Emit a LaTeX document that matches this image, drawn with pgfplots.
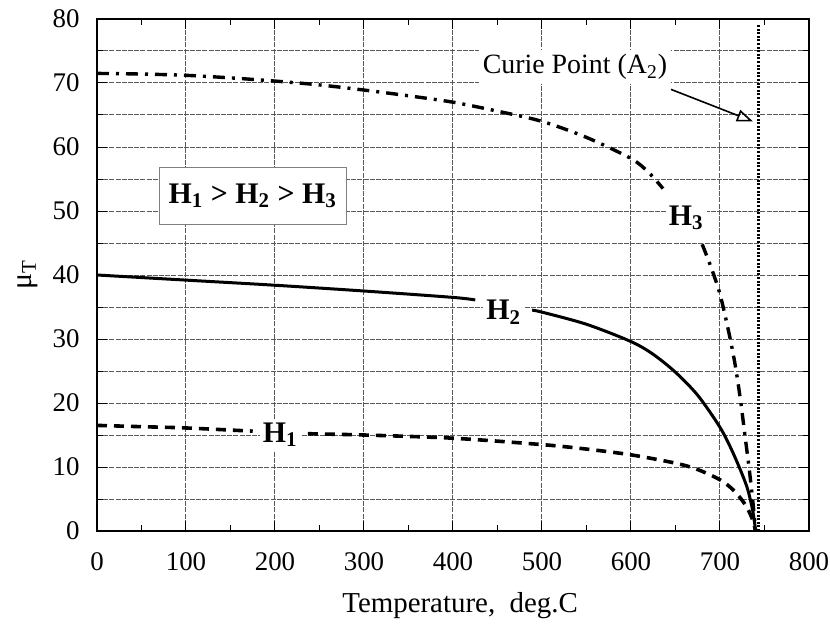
\documentclass[border=0pt]{standalone}
\usepackage{fontspec}
\setmainfont{Liberation Serif}
\usepackage{pgfplots}
\pgfplotsset{compat=1.18}
\usetikzlibrary{arrows.meta}

\begin{document}
\fontsize{13.5}{16}\selectfont
\begin{tikzpicture}
\useasboundingbox (-48.5bp,-47bp) rectangle (366.5bp,265.5bp);
\begin{axis}[
  at={(0,0)}, anchor=south west,
  scale only axis, width=356bp, height=256bp,
  xmin=0, xmax=800, ymin=0, ymax=80,
  xtick={0,100,...,800}, ytick={0,10,...,80},
  minor xtick={50,150,...,750}, minor ytick={5,15,...,75},
  xmajorgrids, ymajorgrids, yminorgrids,
  major grid style={black!65, line width=0.5bp, dash pattern=on 2.5bp off 0.6bp},
  minor grid style={black!65, line width=0.5bp, dash pattern=on 2.5bp off 0.6bp},
  tick style={black, line width=0.5bp},
  major tick length=5bp, minor tick length=3bp,
  axis line style={black, line width=1.1bp},
  tick label style={font=\fontsize{13.5}{16}\selectfont},
  xticklabel style={yshift=-6bp},
  yticklabel style={xshift=-4bp},
  /pgf/number format/assume math mode=true,
  xlabel={Temperature,\ \ deg.C},
  ylabel={μ\textsubscript{T}},
  xlabel style={at={(axis description cs:0.51,-0.145)}, anchor=center, font=\fontsize{14.5}{16}\selectfont},
  ylabel style={at={(axis description cs:-0.097,0.5)}, anchor=center, font=\fontsize{15}{16}\selectfont},
  clip=false,
]
% H3 dash-dot
\addplot[black, line width=1.7bp, dash pattern=on 6bp off 3.5bp on 1.5bp off 3.5bp, smooth] coordinates {
 (0,71.5) (50,71.4) (100,71.2) (150,70.8) (200,70.3) (250,69.7) (300,68.9) (350,68.0)
 (400,67.0) (450,65.6) (500,64.0) (550,61.5) (600,58.2) (620,56) (636,53.5)};
\addplot[black, line width=1.7bp, dash pattern=on 6bp off 3.5bp on 1.5bp off 3.5bp, smooth] coordinates {
 (680,44.8) (690,41.2) (700,37) (710,31) (717,26) (723,20.5) (728,15) (733,9.5) (737,4.5) (740,0)};
% H2 solid
\addplot[black, line width=1.5bp, smooth] coordinates {
 (0,40) (100,39.2) (200,38.4) (300,37.5) (400,36.5) (425,36.1)};
\addplot[black, line width=1.5bp, smooth] coordinates {
 (489,34.5) (500,34.2) (550,32.3) (600,29.6) (625,27.6) (650,24.8) (675,21.2) (700,16.2)
 (715,12.1) (730,7) (737,3) (740,0)};
% H1 dashed
\addplot[black, line width=1.8bp, dash pattern=on 5bp off 3.5bp, smooth] coordinates {
 (0,16.5) (50,16.3) (100,16.1) (175,15.6)};
\addplot[black, line width=1.8bp, dash pattern=on 5bp off 3.5bp, smooth] coordinates {
 (237,15.2) (300,15) (400,14.5) (500,13.5) (550,12.8) (600,11.9) (650,10.6) (675,9.6)
 (700,8.0) (715,6.4) (728,4.2) (736,2) (740,0)};
% Curie point
\addplot[black, line width=1.3bp, dash pattern=on 1bp off 0.8bp] coordinates {(743,0) (743,79)};
% annotations
\draw[-{Triangle[open,length=8bp,width=6bp]}, line width=0.8bp] (axis cs:645,69) -- (axis cs:737,64);
\node[fill=white, inner sep=2bp, font=\fontsize{14}{16}\selectfont] at (axis cs:537,72.5) {Curie Point (A\textsubscript{2})};
\node[fill=white, inner sep=1.5bp, font=\fontsize{15}{16}\selectfont\bfseries] at (axis cs:662,48.9) {H\textsubscript{3}};
\node[fill=white, inner sep=1.5bp, font=\fontsize{15}{16}\selectfont\bfseries] at (axis cs:457,34.2) {H\textsubscript{2}};
\node[fill=white, inner sep=1.5bp, font=\fontsize{15}{16}\selectfont\bfseries] at (axis cs:206,15) {H\textsubscript{1}};
\node[draw=black!50, line width=0.6bp, fill=white, minimum width=93.5bp, minimum height=28.5bp, font=\fontsize{15}{16}\selectfont\bfseries] at (axis cs:175,52.4) {H\textsubscript{1} > H\textsubscript{2} > H\textsubscript{3}};
\end{axis}
\end{tikzpicture}
\end{document}
